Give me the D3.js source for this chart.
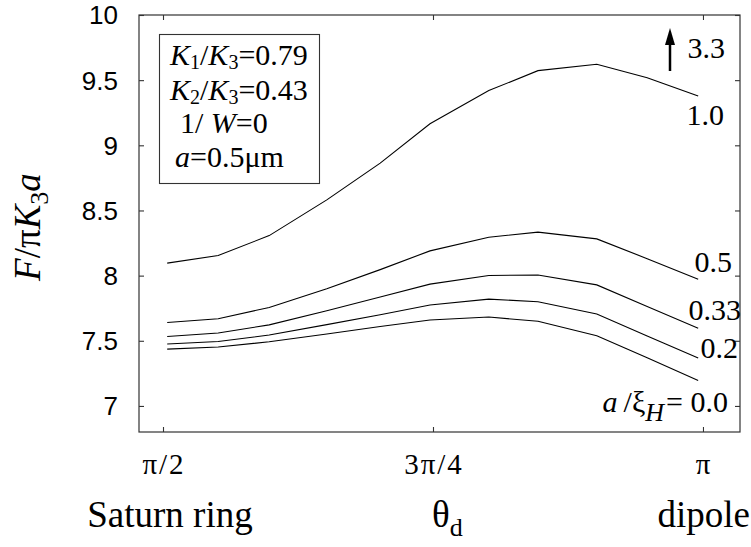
<!DOCTYPE html>
<html><head><meta charset="utf-8">
<script src="https://cdn.jsdelivr.net/npm/d3@7"></script>
<style>body{margin:0;background:#fff;overflow:hidden}</style>
</head><body>
<script>
// ---- data ----
const thetaDeg = [90.7, 99.2, 107.7, 117.3, 126.2, 134.5, 144.3, 152.5, 162.3, 170.7, 179.2];
const s10  = [8.096, 8.155, 8.307, 8.581, 8.863, 9.165, 9.420, 9.573, 9.622, 9.519, 9.379];
const s05  = [7.640, 7.669, 7.756, 7.900, 8.046, 8.190, 8.295, 8.334, 8.282, 8.130, 7.973];
const s033 = [7.533, 7.560, 7.622, 7.731, 7.836, 7.935, 8.001, 8.005, 7.929, 7.763, 7.597];
const s02  = [7.475, 7.495, 7.544, 7.624, 7.700, 7.775, 7.820, 7.800, 7.705, 7.536, 7.367];
const s00  = [7.436, 7.452, 7.492, 7.552, 7.610, 7.660, 7.682, 7.650, 7.538, 7.370, 7.195];
const seriesNames = ["1.0", "0.5", "0.33", "0.2", "0.0"];
const yTicks = [7, 7.5, 8, 8.5, 9, 9.5, 10];
const yTickLabels = ["7", "7.5", "8", "8.5", "9", "9.5", "10"];
const xTicks = [90, 135, 180];
const xTickLabels = ["π/2", "3π/4", "π"];

const W = 751, H = 547;
const L = 139, R = 740, T = 15, B = 432;
const SERIF = "Liberation Serif";
const SANS = "Liberation Sans";

const svg = d3.select("body").append("svg").attr("width", W).attr("height", H);
const x = d3.scaleLinear().domain([86, 186.17]).range([L, R]);
const y = d3.scaleLinear().domain([6.8, 10]).range([B, T]);

function stext(sel, size) {
  return sel.append("text").style("font-family", `"${SERIF}"`).style("font-size", size + "px");
}

// frame
svg.append("rect").attr("x", L).attr("y", T).attr("width", R - L).attr("height", B - T)
  .attr("fill", "none").attr("stroke", "#333").attr("stroke-width", 1.2);

// axes (inward ticks)
const axL = d3.axisRight(y).tickValues(yTicks).tickSize(5).tickFormat("");
const axR = d3.axisLeft(y).tickValues(yTicks).tickSize(5).tickFormat("");
const axB = d3.axisTop(x).tickValues(xTicks).tickSize(5).tickFormat("");
const axT = d3.axisBottom(x).tickValues(xTicks).tickSize(5).tickFormat("");
[[axL, `translate(${L},0)`], [axR, `translate(${R},0)`], [axB, `translate(0,${B})`], [axT, `translate(0,${T})`]]
  .forEach(([a, t]) => {
    const g = svg.append("g").attr("transform", t).call(a);
    g.select(".domain").remove();
    g.selectAll("line").attr("stroke", "#333").attr("stroke-width", 1.1);
  });

// y tick labels
svg.append("g").selectAll("text").data(yTicks).join("text")
  .style("font-family", `"${SANS}"`).style("font-size", "26px")
  .attr("x", 118).attr("y", d => y(d)).attr("dy", "0.36em")
  .attr("text-anchor", "end")
  .text((d, i) => yTickLabels[i]);

// x tick labels
svg.append("g").selectAll("text").data(xTicks).join("text")
  .style("font-family", `"${SERIF}"`).style("font-size", "29px").style("letter-spacing", "2px")
  .attr("x", d => x(d) + 1).attr("y", 474).attr("text-anchor", "middle")
  .text((d, i) => xTickLabels[i]);

// curves
const line = d3.line().x((d, i) => x(thetaDeg[i])).y(d => y(d));
svg.append("g").selectAll("path").data([s10, s05, s033, s02, s00]).join("path")
  .attr("d", line).attr("fill", "none").attr("stroke", "#000").attr("stroke-width", 1.1);

// x-axis captions
stext(svg, 37).attr("x", 170).attr("y", 527).attr("text-anchor", "middle").text("Saturn ring");
const th = stext(svg, 37).attr("x", 432).attr("y", 527);
th.append("tspan").text("θ");
th.append("tspan").attr("dy", 9).style("font-size", "26px").text("d");
stext(svg, 37).attr("x", 750).attr("y", 527).attr("text-anchor", "end").text("dipole");

// y-axis label
const yl = stext(svg, 37).attr("transform", "translate(40,227) rotate(-90)").attr("text-anchor", "middle");
yl.append("tspan").style("font-style", "italic").text("F");
yl.append("tspan").text("/π");
yl.append("tspan").style("font-style", "italic").text("K");
yl.append("tspan").attr("dy", 8).style("font-size", "26px").text("3");
yl.append("tspan").attr("dy", -8).style("font-style", "italic").text("a");

// parameter box
svg.append("rect").attr("x", 159.5).attr("y", 34.5).attr("width", 160).attr("height", 149)
  .attr("fill", "none").attr("stroke", "#333").attr("stroke-width", 1.1);
function ratio(xp, yp, a, b, val) {
  const t = stext(svg, 30).attr("x", xp).attr("y", yp);
  t.append("tspan").style("font-style", "italic").text("K");
  t.append("tspan").attr("dy", 4).style("font-size", "20px").text(a);
  t.append("tspan").attr("dy", -4).text("/");
  t.append("tspan").style("font-style", "italic").text("K");
  t.append("tspan").attr("dy", 4).style("font-size", "20px").text(b);
  t.append("tspan").attr("dy", -4).text("=" + val);
}
ratio(170, 65, "1", "3", "0.79");
ratio(170, 100, "2", "3", "0.43");
const t3 = stext(svg, 30).attr("x", 180).attr("y", 133);
t3.append("tspan").text("1/ ");
t3.append("tspan").style("font-style", "italic").text("W");
t3.append("tspan").text("=0");
const t4 = stext(svg, 30).attr("x", 175).attr("y", 167);
t4.append("tspan").style("font-style", "italic").text("a");
t4.append("tspan").text("=0.5μm");

// curve labels
const lab = (txt, xr, yb) => stext(svg, 30).attr("x", xr).attr("y", yb).attr("text-anchor", "end").text(txt);
lab("3.3", 725, 58);
lab(seriesNames[0], 724, 125);
lab(seriesNames[1], 732, 272);
lab(seriesNames[2], 741, 320);
lab(seriesNames[3], 738, 358);
const l0 = stext(svg, 30).attr("x", 728).attr("y", 412).attr("text-anchor", "end");
l0.append("tspan").style("font-style", "italic").text("a");
l0.append("tspan").attr("dx", 6).text("/ξ");
l0.append("tspan").attr("dy", 9).style("font-size", "26px").style("font-style", "italic").text("H");
l0.append("tspan").attr("dy", -9).attr("dx", 2).text("= " + seriesNames[4]);

// arrow
svg.append("line").attr("x1", 670).attr("x2", 670).attr("y1", 71).attr("y2", 40)
  .attr("stroke", "#000").attr("stroke-width", 2.5);
svg.append("path").attr("d", "M670,28 L665,45 L675,45 Z").attr("fill", "#000");
</script>
</body></html>
